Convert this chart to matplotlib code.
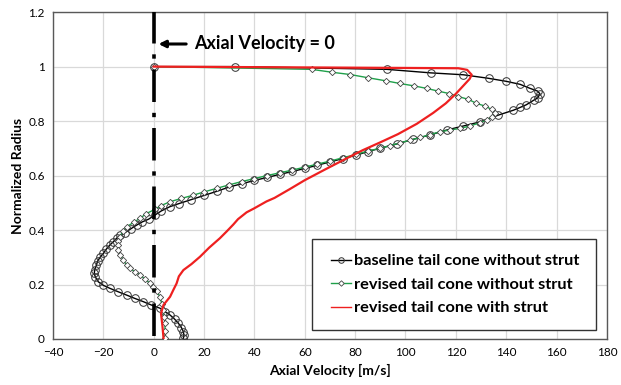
import numpy as np
import matplotlib.pyplot as plt
from matplotlib.patches import Rectangle

# baseline tail cone without strut
base_v = [0, 32.3, 92.5, 110, 123, 133, 140, 145.5, 149.5, 152.5, 153.4, 152.5, 151, 148, 145.5,
          142.9, 136.9, 129.6, 123, 116.3, 109.7, 103.1, 96.5, 89.9, 85, 80.5, 75, 70, 65, 60,
          55, 50, 45, 40, 35, 30, 25, 20, 15, 10, 6.5, 3, 0.5, -2, -4.5, -6.8, -9, -11.5,
          -13.4, -14.7, -16, -17.4, -18.8, -20, -21.3, -22.3, -22.8, -23.4, -23.6, -23.2, -22,
          -20, -17.4, -14, -10.7, -7.5, -4.1, -1, 2.5, 4.5, 6.5, 8.3, 9.8, 11, 11.8, 12, 11.8]
base_r = [1.0, 1.0, 0.99, 0.977, 0.97, 0.957, 0.946, 0.935, 0.92, 0.91, 0.9, 0.885, 0.877, 0.86, 0.85,
          0.84, 0.822, 0.797, 0.782, 0.767, 0.749, 0.733, 0.716, 0.7, 0.688, 0.675, 0.662, 0.65, 0.638, 0.626,
          0.615, 0.604, 0.593, 0.582, 0.57, 0.558, 0.542, 0.527, 0.512, 0.497, 0.486, 0.47, 0.455, 0.44, 0.43, 0.418, 0.405, 0.39,
          0.38, 0.37, 0.357, 0.345, 0.33, 0.314, 0.3, 0.285, 0.27, 0.255, 0.241, 0.228, 0.21,
          0.197, 0.186, 0.173, 0.161, 0.149, 0.137, 0.125, 0.113, 0.1, 0.088, 0.073, 0.058, 0.042, 0.027, 0.013, 0.003]

# revised tail cone without strut
rev_v = [0, 62.7, 71, 78, 85.2, 92.1, 97.8, 103.5, 108.4, 113, 117.4, 121, 124.9, 128.2, 131.6,
         134.2, 135.5, 134.2, 132.2, 129.6, 125.6, 121.6, 117.5, 113.7, 109.8, 105.8, 101.8, 97.8,
         93.8, 89.9, 85, 80.5, 75, 70, 65, 60, 55, 50, 45, 40, 35, 30, 25, 20, 15.7, 11, 6.5,
         3, 0.5, -3, -5.4, -8, -10.7, -12.3, -13.4, -14, -14.3, -14.1, -13.3, -12.1, -10.7, -9.4,
         -7.5, -5.4, -3.5, -1.5, -0.1, 1.2, 2.5, 3.2, 3.8, 4.2, 4.5, 4.5, 4.5]
rev_r = [1.0, 0.99, 0.979, 0.971, 0.959, 0.948, 0.938, 0.929, 0.92, 0.91, 0.901, 0.89, 0.88, 0.865, 0.855,
         0.843, 0.83, 0.816, 0.804, 0.794, 0.782, 0.773, 0.767, 0.761, 0.75, 0.74, 0.73, 0.72,
         0.71, 0.7, 0.69, 0.678, 0.665, 0.653, 0.642, 0.631, 0.62, 0.61, 0.6, 0.589, 0.578, 0.566, 0.553, 0.54, 0.528, 0.516, 0.504,
         0.49, 0.476, 0.46, 0.443, 0.428, 0.412, 0.395, 0.375, 0.36, 0.345, 0.327, 0.31, 0.29, 0.271, 0.259,
         0.247, 0.235, 0.22, 0.205, 0.192, 0.175, 0.155, 0.13, 0.106, 0.08, 0.058, 0.03, 0.003]

# revised tail cone with strut
strut_v = [0, 60, 121, 124.5, 126.3, 125.5, 123, 120, 116, 111, 104.5, 97, 90, 83, 76.6, 68, 60,
           54, 48, 44.8, 40, 36.9, 33.5, 31.6, 29, 26.3, 22, 18.4, 15, 11.8, 10, 9.1, 7.8, 6.5,
           3.9, 2.9, 3.2, 3.5, 3.9]
strut_r = [1.0, 0.997, 0.994, 0.988, 0.97, 0.955, 0.93, 0.9, 0.865, 0.83, 0.79, 0.752, 0.722, 0.693, 0.663, 0.622, 0.583,
           0.55, 0.518, 0.505, 0.48, 0.465, 0.44, 0.42, 0.395, 0.37, 0.335, 0.302, 0.275, 0.253, 0.23, 0.204, 0.18, 0.155,
           0.125, 0.094, 0.07, 0.045, 0.003]

labels = ['baseline tail cone without strut', 'revised tail cone without strut',
          'revised tail cone with strut']

plt.rcParams['font.family'] = ['Lato', 'DejaVu Sans']

fig = plt.figure(figsize=(6.21, 3.85), dpi=100)
ax = fig.add_axes([0.0853, 0.1195, 0.892, 0.849])

ax.plot(base_v, base_r, color='black', lw=1.0, marker='o', ms=5.5, mfc='none',
        mec='#333333', mew=0.7, label=labels[0], zorder=3)
ax.plot(rev_v, rev_r, color='#1fa04a', lw=1.0, marker='D', ms=3.2, mfc='white',
        mec='#444444', mew=0.6, label=labels[1], zorder=4)
ax.plot(strut_v, strut_r, color='#ee2020', lw=1.6, label=labels[2], zorder=5)

# zero velocity line
ax.plot([0, 0], [0.01, 1.2], color='black', lw=2.6, zorder=6,
        dashes=(9, 3, 1.2, 3))
ax.annotate('', xy=(0.8, 1.083), xytext=(14, 1.083),
            arrowprops=dict(arrowstyle='-|>', color='black', lw=2.2, mutation_scale=10))
ax.text(16, 1.083, 'Axial Velocity = 0', fontsize=13, fontweight='bold', va='center')

ax.set_xlim(-40, 180)
ax.set_ylim(0, 1.2)
ax.set_xticks(np.arange(-40, 181, 20))
ax.set_yticks(np.arange(0, 1.21, 0.2))
ax.set_yticklabels(['0', '0.2', '0.4', '0.6', '0.8', '1', '1.2'])
ax.tick_params(labelsize=8.5, length=0, pad=6, labelcolor='black')
ax.grid(True, color='#d9d9d9', lw=0.9)
ax.set_axisbelow(True)
for s in ax.spines.values():
    s.set_color('#595959')
    s.set_linewidth(1.0)

ax.set_xlabel('Axial Velocity [m/s]', fontsize=10, fontweight='bold', labelpad=4)
ax.set_ylabel('Normalized Radius', fontsize=10, fontweight='bold', labelpad=3)

# legend box drawn separately so the entries sit centred in it
box = Rectangle((0.4675, 0.0275), 0.5125, 0.2785, transform=ax.transAxes,
                facecolor='white', edgecolor='#333333', lw=1.0, zorder=9)
ax.add_patch(box)
leg = ax.legend(loc='center', bbox_to_anchor=(0.7255, 0.1665),
                prop={'weight': 'bold', 'size': 11.8}, frameon=False,
                handlelength=1.25, handletextpad=0.15, borderpad=0.3,
                labelspacing=0.55, borderaxespad=0)
leg.set_zorder(10)
hl = leg.get_lines()
hl[0].set_markersize(4)
hl[1].set_markersize(2.8)
hl[2].set_linewidth(1.0)

fig.savefig('out.png', dpi=100)
